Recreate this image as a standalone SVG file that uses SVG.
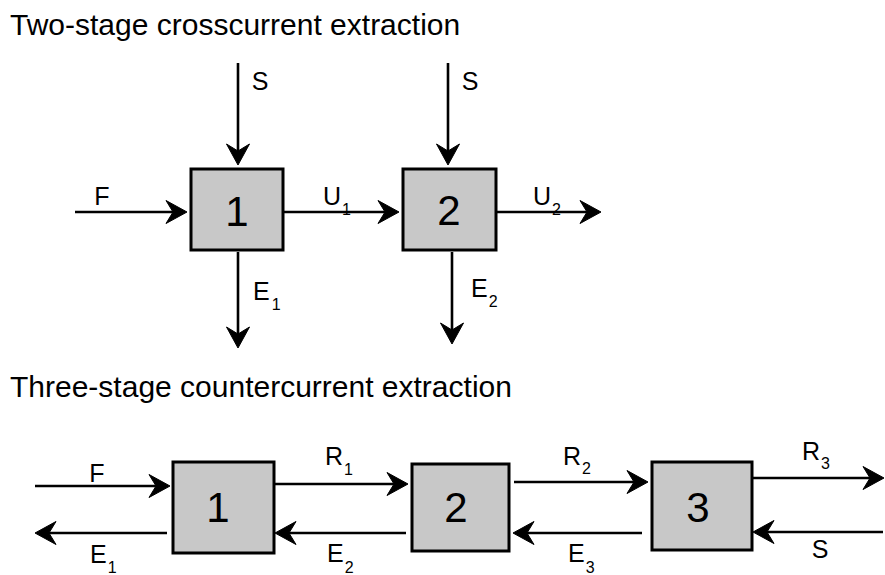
<svg xmlns="http://www.w3.org/2000/svg" width="885" height="575" viewBox="0 0 885 575">
<defs>
<style>
.title{font-family:"Liberation Sans",Arial,sans-serif;font-size:30px;fill:#000}
.lbl{font-family:"Liberation Sans",Arial,sans-serif;font-size:25px;fill:#000}
.sub{font-size:16px}
.num{font-family:"Liberation Sans",Arial,sans-serif;font-size:42px;fill:#000;text-anchor:middle}
.box{fill:#c8c8c8;stroke:#000;stroke-width:3}
.ln{stroke:#000;stroke-width:2.6;fill:none;marker-end:url(#ah)}
</style>
<marker id="ah" markerUnits="userSpaceOnUse" markerWidth="30" markerHeight="30" viewBox="-25 -15 30 30" refX="-8" refY="0" orient="auto">
<path d="M0,0 L-21,-11.5 L-14,0 L-21,11.5 Z" fill="#000" stroke="#000" stroke-width="1" stroke-linejoin="miter"/>
</marker>
</defs>
<rect width="885" height="575" fill="#fff"/>
<text class="title" x="10" y="35">Two-stage crosscurrent extraction</text>
<text class="title" x="10" y="397">Three-stage countercurrent extraction</text>

<g id="connectors">
<line class="ln" x1="238" y1="63" x2="238" y2="157"/>
<line class="ln" x1="448" y1="63" x2="448" y2="157"/>
<line class="ln" x1="75" y1="212" x2="179" y2="212"/>
<line class="ln" x1="283" y1="212" x2="391" y2="212"/>
<line class="ln" x1="496" y1="212" x2="593" y2="212"/>
<line class="ln" x1="238" y1="252" x2="238" y2="340"/>
<line class="ln" x1="452" y1="252" x2="452" y2="336"/>

<line class="ln" x1="35" y1="486" x2="162" y2="486"/>
<line class="ln" x1="167" y1="533" x2="43" y2="533"/>
<line class="ln" x1="274" y1="484" x2="400" y2="484"/>
<line class="ln" x1="406" y1="533" x2="283" y2="533"/>
<line class="ln" x1="514" y1="482" x2="640" y2="482"/>
<line class="ln" x1="642" y1="533" x2="521" y2="533"/>
<line class="ln" x1="752" y1="478" x2="876" y2="478"/>
<line class="ln" x1="883" y1="532" x2="761" y2="532"/>

<text class="lbl" x="260" y="90" text-anchor="middle">S</text>
<text class="lbl" x="470" y="90" text-anchor="middle">S</text>
<text class="lbl" x="102" y="205" text-anchor="middle">F</text>
<text class="lbl" x="323" y="205">U<tspan class="sub" dx="1" dy="10">1</tspan></text>
<text class="lbl" x="533" y="205">U<tspan class="sub" dx="1" dy="10">2</tspan></text>
<text class="lbl" x="253" y="300">E<tspan class="sub" dx="2" dy="10">1</tspan></text>
<text class="lbl" x="471" y="297">E<tspan class="sub" dx="1" dy="10">2</tspan></text>

<text class="lbl" x="97" y="482" text-anchor="middle">F</text>
<text class="lbl" x="90" y="563">E<tspan class="sub" dx="1" dy="10">1</tspan></text>
<text class="lbl" x="325" y="465">R<tspan class="sub" dx="1" dy="10">1</tspan></text>
<text class="lbl" x="327" y="562">E<tspan class="sub" dx="1" dy="11">2</tspan></text>
<text class="lbl" x="563" y="465">R<tspan class="sub" dx="1" dy="9">2</tspan></text>
<text class="lbl" x="568" y="562">E<tspan class="sub" dx="1" dy="11">3</tspan></text>
<text class="lbl" x="802" y="460">R<tspan class="sub" dx="1" dy="9">3</tspan></text>
<text class="lbl" x="820" y="558" text-anchor="middle">S</text>
</g>

<g id="cross-stage1"><rect class="box" x="191" y="169" width="92" height="81"/><text class="num" x="237" y="226">1</text></g>
<g id="cross-stage2"><rect class="box" x="403" y="169" width="93" height="81"/><text class="num" x="449" y="225">2</text></g>
<g id="counter-stage1"><rect class="box" x="173" y="462" width="101" height="91"/><text class="num" x="218" y="522">1</text></g>
<g id="counter-stage2"><rect class="box" x="412" y="464" width="97" height="87"/><text class="num" x="456" y="522">2</text></g>
<g id="counter-stage3"><rect class="box" x="652" y="462" width="100" height="88"/><text class="num" x="698" y="522">3</text></g>
</svg>
